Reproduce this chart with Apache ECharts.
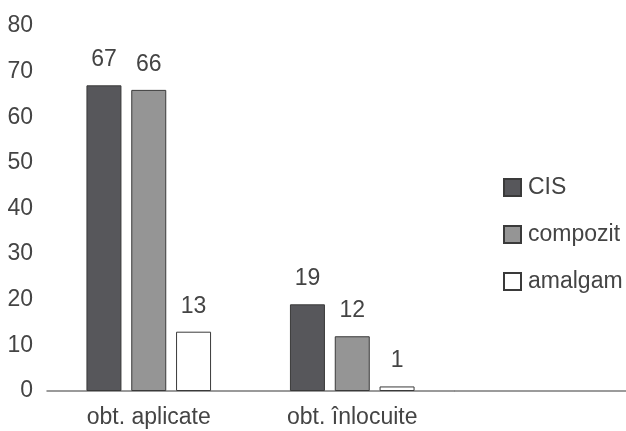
<!DOCTYPE html>
<html>
<head>
<meta charset="utf-8">
<script src="https://cdn.jsdelivr.net/npm/echarts@6/dist/echarts.min.js"></script>
<style>
  html, body { margin: 0; padding: 0; background: #ffffff; }
  #chart { width: 626px; height: 431px; }
</style>
</head>
<body>
<div id="chart"></div>
<script>
// Categories and values per restoration material
const categories = ['obt. aplicate', 'obt. înlocuite'];
const cisValues = [67, 19];
const compozitValues = [66, 12];
const amalgamValues = [13, 1];
const seriesNames = ['CIS', 'compozit', 'amalgam'];

const FONT = '"Liberation Sans", Arial, sans-serif';
const TEXT = '#444444';

const chart = echarts.init(document.getElementById('chart'), null, { renderer: 'canvas' });

function barSeries(name, data, fill) {
  return {
    name: name,
    type: 'bar',
    data: data,
    barWidth: 35,
    barGap: '28%',
    itemStyle: { color: fill, borderColor: '#3a3a3a', borderWidth: 1 },
    label: {
      show: true,
      position: 'top',
      distance: 14,
      fontFamily: FONT,
      fontSize: 23,
      color: TEXT
    }
  };
}

chart.setOption({
  backgroundColor: '#ffffff',
  animation: false,
  grid: { left: 47, top: 26, width: 407, bottom: 40, containLabel: false },
  legend: {
    orient: 'vertical',
    left: 503,
    top: 176,
    padding: 0,
    icon: 'rect',
    itemWidth: 17,
    itemHeight: 17,
    itemGap: 24,
    textStyle: { fontFamily: FONT, fontSize: 23, color: TEXT, padding: [0, 0, 0, 2] },
    data: seriesNames
  },
  xAxis: {
    type: 'category',
    data: categories,
    axisLine: { show: true, lineStyle: { color: '#7a7a7a', width: 1.5 } },
    axisTick: { show: false },
    axisLabel: { fontFamily: FONT, fontSize: 23, color: TEXT, margin: 15 }
  },
  yAxis: {
    type: 'value',
    min: 0,
    max: 80,
    interval: 10,
    axisLine: { show: false },
    axisTick: { show: false },
    splitLine: { show: false },
    axisLabel: { fontFamily: FONT, fontSize: 23, color: TEXT, margin: 14 }
  },
  series: [
    barSeries(seriesNames[0], cisValues, '#57575b'),
    barSeries(seriesNames[1], compozitValues, '#959595'),
    barSeries(seriesNames[2], amalgamValues, '#ffffff')
  ]
});

// The baseline runs on past the plot area to the right edge of the canvas
const y0 = chart.convertToPixel({ yAxisIndex: 0 }, 0);
const gridRight = 47 + 407;
chart.setOption({
  graphic: [{
    type: 'line',
    shape: { x1: gridRight, y1: y0, x2: 626, y2: y0 },
    style: { stroke: '#7a7a7a', lineWidth: 1.5 },
    z: 10
  }]
});
</script>
</body>
</html>
